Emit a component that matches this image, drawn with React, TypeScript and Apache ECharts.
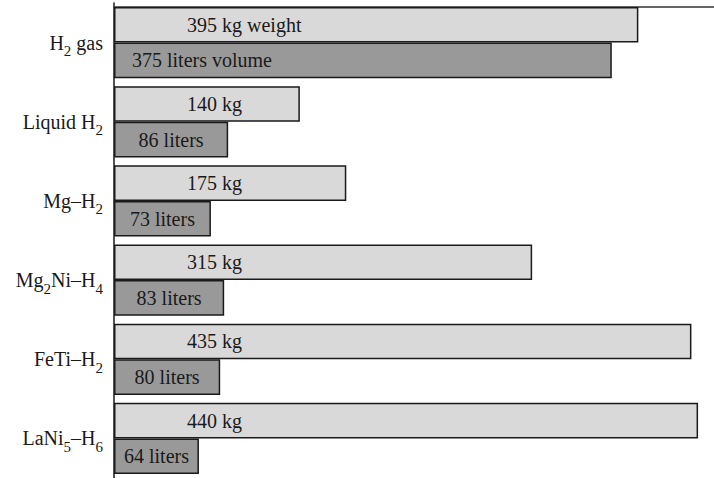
import React, { useEffect, useRef } from "react";
import * as echarts from "echarts";

const categories = ["H_2 gas", "Liquid H_2", "Mg–H_2", "Mg_2Ni–H_4", "FeTi–H_2", "LaNi_5–H_6"];
const weightsKg = [395, 140, 175, 315, 435, 440];
const volumesLiters = [375, 86, 73, 83, 80, 64];
const weightUnitFirst = "kg weight";
const weightUnit = "kg";
const volumeUnitFirst = "liters volume";
const volumeUnit = "liters";
const axisMax = 452;

const FONT = "Liberation Serif";

export default function App() {
  const ref = useRef<HTMLDivElement>(null);
  useEffect(() => {
    if (!ref.current) return;
    const chart = echarts.init(ref.current, undefined, { renderer: "svg" });
    const volumeData = volumesLiters.map((v, i) =>
      i === 0
        ? { value: v, label: { position: "insideLeft", distance: 18 } }
        : { value: v }
    );
    const labelText = {
      color: "#1a1a1a",
      fontFamily: FONT,
      fontSize: 20,
      textBorderWidth: 0,
      textBorderColor: "transparent",
    };
    chart.setOption({
      animation: false,
      backgroundColor: "#ffffff",
      textStyle: { fontFamily: FONT },
      grid: { left: 114, right: 0, top: 3, height: 479, containLabel: false },
      xAxis: [
        {
          type: "value",
          min: 0,
          max: axisMax,
          axisLine: { show: false },
          axisTick: { show: false },
          axisLabel: { show: false },
          splitLine: { show: false },
        },
        {
          type: "value",
          position: "top",
          offset: -4,
          min: 0,
          max: axisMax,
          axisLine: { show: true, lineStyle: { color: "#333333", width: 1.5 } },
          axisTick: { show: false },
          axisLabel: { show: false },
          splitLine: { show: false },
        },
      ],
      yAxis: {
        type: "category",
        inverse: true,
        data: categories,
        axisLine: { show: true, lineStyle: { color: "#1a1a1a", width: 1.5 } },
        axisTick: { show: false },
        splitLine: { show: false },
        axisLabel: {
          margin: 11,
          color: "#1a1a1a",
          fontFamily: FONT,
          fontSize: 20,
          lineHeight: 24,
          formatter: (s: string) => s.replace(/_(\d)/g, "{s|$1}"),
          rich: {
            s: {
              fontFamily: FONT,
              fontSize: 15,
              color: "#1a1a1a",
              lineHeight: 24,
              padding: [17, 0, 0, 0],
            },
          },
        },
      },
      series: [
        {
          type: "bar",
          name: "weight",
          xAxisIndex: 0,
          data: weightsKg,
          barGap: "0%",
          barCategoryGap: "10%",
          itemStyle: { color: "#d9d9d9", borderColor: "#1a1a1a", borderWidth: 1.5 },
          label: {
            show: true,
            position: [73, "50%"],
            align: "left",
            verticalAlign: "middle",
            ...labelText,
            formatter: (p: any) =>
              `${p.value} ${p.dataIndex === 0 ? weightUnitFirst : weightUnit}`,
          },
        },
        {
          type: "bar",
          name: "volume",
          xAxisIndex: 0,
          data: volumeData,
          barGap: "0%",
          barCategoryGap: "10%",
          itemStyle: { color: "#999999", borderColor: "#1a1a1a", borderWidth: 1.5 },
          label: {
            show: true,
            position: "inside",
            ...labelText,
            formatter: (p: any) =>
              `${p.value} ${p.dataIndex === 0 ? volumeUnitFirst : volumeUnit}`,
          },
        },
      ],
    });
    return () => chart.dispose();
  }, []);
  return (
    <div
      ref={ref}
      style={{ position: "fixed", left: 0, top: 0, width: 714, height: 478 }}
    />
  );
}
